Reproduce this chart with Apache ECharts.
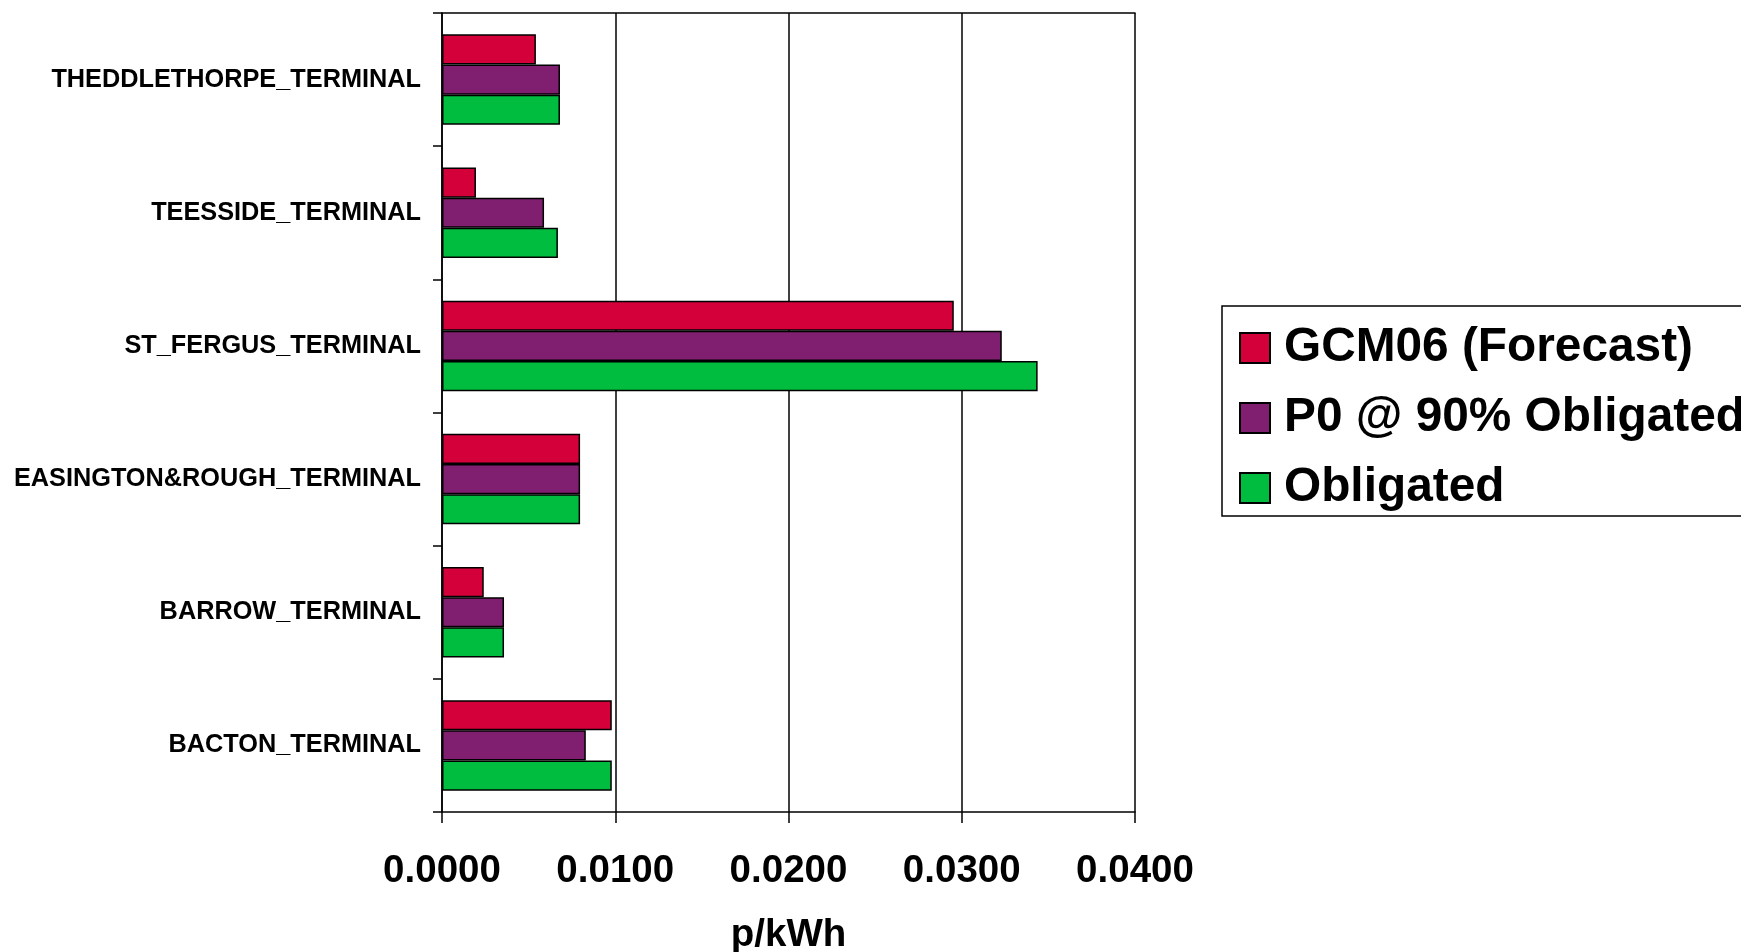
<!DOCTYPE html>
<html>
<head>
<meta charset="utf-8">
<script src="https://cdn.jsdelivr.net/npm/echarts@6/dist/echarts.min.js"></script>
<style>
html,body{margin:0;padding:0;background:#fff;}
#c{width:1741px;height:952px;}
</style>
</head>
<body>
<div id="c"></div>
<script>
const categories = ['THEDDLETHORPE_TERMINAL','TEESSIDE_TERMINAL','ST_FERGUS_TERMINAL','EASINGTON&ROUGH_TERMINAL','BARROW_TERMINAL','BACTON_TERMINAL'];
const seriesNames = ['GCM06 (Forecast)','P0 @ 90% Obligated','Obligated'];
const gcm06 = [0.00542, 0.00196, 0.02954, 0.00797, 0.00241, 0.00980];
const p0at90 = [0.00681, 0.00589, 0.03231, 0.00797, 0.00358, 0.00830];
const obligated = [0.00681, 0.00669, 0.03438, 0.00797, 0.00358, 0.00980];
const xTicks = [0, 0.01, 0.02, 0.03, 0.04];
const colors = ['#D4003A', '#801F70', '#00BD3F'];

const font = 'Liberation Sans, Arial, sans-serif';
const chart = echarts.init(document.getElementById('c'));
const values = [gcm06, p0at90, obligated];
chart.setOption({
  animation: false,
  backgroundColor: '#fff',
  grid: { left: 442, right: 606, top: 13, bottom: 140, containLabel: false, outerBoundsMode: 'none' },
  legend: {
    orient: 'vertical',
    left: 1222,
    top: 306,
    padding: [17, 60, 3, 17],
    itemWidth: 30,
    itemHeight: 30,
    itemGap: 20,
    icon: 'rect',
    borderColor: '#000',
    borderWidth: 1.5,
    backgroundColor: '#fff',
    data: seriesNames,
    textStyle: { fontFamily: font, fontWeight: 'bold', fontSize: 47.8, color: '#000', lineHeight: 50, padding: [0, 0, 0, 9] }
  },
  xAxis: [{
    type: 'value',
    min: xTicks[0],
    max: xTicks[xTicks.length - 1],
    interval: 0.01,
    name: 'p/kWh',
    nameLocation: 'middle',
    nameGap: 104,
    nameTextStyle: { fontFamily: font, fontWeight: 'bold', fontSize: 38.5, color: '#000' },
    axisLine: { show: true, lineStyle: { color: '#000', width: 1.5 } },
    axisTick: { show: true, length: 11, lineStyle: { color: '#000', width: 1.5 } },
    splitLine: { show: true, lineStyle: { color: '#000', width: 1.5 } },
    axisLabel: { margin: 40, fontFamily: font, fontWeight: 'bold', fontSize: 38.5, color: '#000', formatter: v => v.toFixed(4) }
  }, {
    type: 'value',
    position: 'top',
    min: xTicks[0],
    max: xTicks[xTicks.length - 1],
    interval: 0.01,
    axisLine: { show: true, onZero: false, lineStyle: { color: '#000', width: 1.5 } },
    axisTick: { show: false },
    axisLabel: { show: false },
    splitLine: { show: false }
  }],
  yAxis: {
    type: 'category',
    inverse: true,
    data: categories,
    axisLine: { show: true, lineStyle: { color: '#000', width: 1.5 } },
    axisTick: { show: true, length: 9, lineStyle: { color: '#000', width: 1.5 } },
    axisLabel: { margin: 21, fontFamily: font, fontWeight: 'bold', fontSize: 25.3, color: '#000', padding: [4, 0, 0, 0] }
  },
  series: seriesNames.map((n, i) => ({
    name: n,
    type: 'bar',
    data: values[i],
    barGap: '0%',
    barCategoryGap: '32%',
    itemStyle: { color: colors[i], borderColor: '#000', borderWidth: 1.5 }
  }))
});
</script>
</body>
</html>
